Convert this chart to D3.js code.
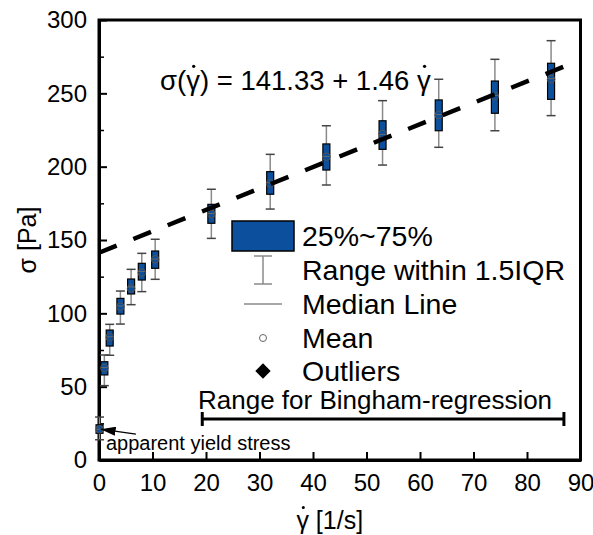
<!DOCTYPE html>
<html>
<head>
<meta charset="utf-8">
<script src="https://cdn.jsdelivr.net/npm/d3@7"></script>
<style>
  html, body { margin: 0; padding: 0; background: #fff; }
  svg text { font-family: "Liberation Sans", Arial, sans-serif; fill: #000; }
</style>
</head>
<body>
<svg id="chart" width="593" height="535"></svg>
<script>
// Shear rate steps [1/s] and the stress distribution measured at each step [Pa]
const shearRate   = [0.1, 1, 2, 4, 6, 8, 10.5, 21, 32, 42.5, 53, 63.5, 74, 84.5];
const whiskerHigh = [29.3, 71.6, 92.5, 115.2, 130.0, 140.9, 150.5, 184.6, 208.4, 227.9, 245.0, 259.6, 273.2, 285.9];
const q3          = [24.0, 67.0, 88.6, 110.2, 123.4, 134.1, 142.5, 174.3, 196.6, 215.5, 231.3, 245.5, 258.4, 270.5];
const median      = [21.0, 63.0, 84.0, 105.0, 118.0, 128.5, 137.0, 168.0, 189.0, 207.0, 222.0, 235.5, 248.5, 260.0];
const mean        = [20.9, 62.7, 83.7, 104.5, 117.0, 127.7, 136.8, 167.7, 188.6, 206.8, 222.3, 235.2, 248.2, 259.6];
const q1          = [18.2, 58.0, 77.7, 99.5, 113.2, 122.7, 130.7, 161.4, 181.2, 197.7, 211.8, 224.5, 236.4, 245.9];
const whiskerLow  = [13.8, 50.7, 71.4, 92.7, 105.9, 114.8, 123.2, 151.1, 171.1, 187.5, 201.1, 213.2, 224.5, 234.8];

// Bingham fit: sigma = tau0 + eta * gammaDot
const binghamIntercept = 141.33;
const binghamSlope = 1.46;
const fitRange = [0, 87];

// Shear-rate span used for the regression
const regressionRange = [19.3, 86.9];

// Axis ticks
const xTicks = [0, 10, 20, 30, 40, 50, 60, 70, 80, 90];
const yTicks = [0, 50, 100, 150, 200, 250, 300];
const yMinorTicks = [25, 75, 125, 175, 225, 275];

// Yield stress annotation (arrow tail/head and label anchor in data units)
const yieldArrowTail = [6.9, 17.6];
const yieldArrowHead = [0.3, 21.0];
const yieldLabelAt = [1.3, 6.8];

const legendItems = ["25%~75%", "Range within 1.5IQR", "Median Line", "Mean", "Outliers"];

const BLUE = "#0c4f9c";
const FONT = 24;
const NBSP = "\u00A0";

const svg = d3.select("#chart");
const x = d3.scaleLinear().domain([0, 90]).range([99, 580.5]);
const y = d3.scaleLinear().domain([0, 300]).range([460, 20]);

// Plot frame
svg.append("rect")
  .attr("x", x(0)).attr("y", y(300))
  .attr("width", x(90) - x(0)).attr("height", y(0) - y(300))
  .attr("fill", "none").attr("stroke", "#000").attr("stroke-width", 3);

// Axes with inward ticks
const xAxis = d3.axisBottom(x).tickValues(xTicks).tickSizeInner(-8).tickSizeOuter(0).tickPadding(14);
const gx = svg.append("g").attr("transform", `translate(0,${y(0)})`).call(xAxis);
gx.select(".domain").attr("stroke-width", 3);
gx.selectAll(".tick line").attr("stroke-width", 2);
gx.selectAll(".tick text").attr("font-size", FONT).attr("font-family", "Liberation Sans, Arial, sans-serif");

const yAxis = d3.axisLeft(y).tickValues(yTicks).tickSizeInner(-8).tickSizeOuter(0).tickPadding(12);
const gy = svg.append("g").attr("transform", `translate(${x(0)},0)`).call(yAxis);
gy.select(".domain").attr("stroke-width", 3);
gy.selectAll(".tick line").attr("stroke-width", 2);
gy.selectAll(".tick text").attr("font-size", FONT).attr("font-family", "Liberation Sans, Arial, sans-serif");

const gyMinor = svg.append("g").attr("transform", `translate(${x(0)},0)`)
  .call(d3.axisLeft(y).tickValues(yMinorTicks).tickSizeInner(-5).tickSizeOuter(0).tickFormat(""));
gyMinor.select(".domain").remove();
gyMinor.selectAll(".tick line").attr("stroke-width", 1.5);

// Text with dotted gamma pieces laid out left to right
function richText(parent, x0, baseline, parts, size, anchor) {
  const g = parent.append("g");
  let cx = 0;
  parts.forEach(p => {
    const t = g.append("text").attr("x", cx).attr("y", 0).attr("font-size", size).text(p.t);
    const w = t.node().getComputedTextLength();
    if (p.dot) {
      g.append("circle").attr("cx", cx + w * 0.55).attr("cy", -size * 0.86)
        .attr("r", Math.max(1.2, size * 0.06)).attr("fill", "#000");
    }
    cx += w;
  });
  const shift = anchor === "middle" ? -cx / 2 : 0;
  g.attr("transform", `translate(${x0 + shift},${baseline})`);
  return g;
}

// Axis titles
richText(svg, (x(0) + x(90)) / 2 - 10, 529, [{t: "γ", dot: true}, {t: NBSP + "[1/s]"}], 25, "middle");
svg.append("text")
  .attr("transform", `translate(36,${(y(0) + y(300)) / 2}) rotate(-90)`)
  .attr("text-anchor", "middle").attr("font-size", 25).text("σ [Pa]");

// Box plots
const data = shearRate.map((s, i) => ({
  s, hi: whiskerHigh[i], q3: q3[i], med: median[i], mean: mean[i], q1: q1[i], lo: whiskerLow[i]
}));
const boxW = 7, capW = 9;
const boxes = svg.append("g");
const bg = boxes.selectAll("g").data(data).join("g");
bg.append("line")
  .attr("x1", d => x(d.s)).attr("x2", d => x(d.s))
  .attr("y1", d => y(d.hi)).attr("y2", d => y(d.lo))
  .attr("stroke", "#8a8a8a").attr("stroke-width", 1.5);
bg.append("line")
  .attr("x1", d => x(d.s) - capW / 2).attr("x2", d => x(d.s) + capW / 2)
  .attr("y1", d => y(d.hi)).attr("y2", d => y(d.hi))
  .attr("stroke", "#444").attr("stroke-width", 1.5);
bg.append("line")
  .attr("x1", d => x(d.s) - capW / 2).attr("x2", d => x(d.s) + capW / 2)
  .attr("y1", d => y(d.lo)).attr("y2", d => y(d.lo))
  .attr("stroke", "#444").attr("stroke-width", 1.5);
bg.append("rect")
  .attr("x", d => x(d.s) - boxW / 2).attr("width", boxW)
  .attr("y", d => y(d.q3)).attr("height", d => y(d.q1) - y(d.q3))
  .attr("fill", BLUE).attr("stroke", "#000").attr("stroke-width", 1.2);
bg.append("line")
  .attr("x1", d => x(d.s) - boxW / 2).attr("x2", d => x(d.s) + boxW / 2)
  .attr("y1", d => y(d.med)).attr("y2", d => y(d.med))
  .attr("stroke", "#6a6a6a").attr("stroke-width", 1);
bg.append("circle")
  .attr("cx", d => x(d.s)).attr("cy", d => y(d.mean)).attr("r", 3.8)
  .attr("fill", "none").attr("stroke", "#555").attr("stroke-width", 1);

// Bingham regression line
const fitLine = d3.line().x(d => x(d)).y(d => y(binghamIntercept + binghamSlope * d));
svg.append("path")
  .attr("d", fitLine(fitRange))
  .attr("fill", "none").attr("stroke", "#000").attr("stroke-width", 4.5)
  .attr("stroke-dasharray", "19 18");

// Fit equation
richText(svg, 160, 90, [
  {t: "σ("}, {t: "γ", dot: true},
  {t: ")" + NBSP + "=" + NBSP + binghamIntercept.toFixed(2) + NBSP + "+" + NBSP + binghamSlope.toFixed(2) + NBSP},
  {t: "γ", dot: true}
], 27.5, "start");

// Legend
const lg = svg.append("g");
const lx = 263, ltx = 302, rowY = [236, 270, 304, 338, 371];
lg.append("rect").attr("x", 232).attr("y", rowY[0] - 15).attr("width", 62).attr("height", 30)
  .attr("fill", BLUE).attr("stroke", "#000").attr("stroke-width", 1.5);
lg.append("line").attr("x1", lx).attr("x2", lx).attr("y1", rowY[1] - 14).attr("y2", rowY[1] + 14)
  .attr("stroke", "#8a8a8a").attr("stroke-width", 1.5);
[rowY[1] - 14, rowY[1] + 14].forEach(yy => lg.append("line")
  .attr("x1", lx - 9).attr("x2", lx + 9).attr("y1", yy).attr("y2", yy)
  .attr("stroke", "#8a8a8a").attr("stroke-width", 1.5));
lg.append("line").attr("x1", 244).attr("x2", 282).attr("y1", rowY[2]).attr("y2", rowY[2])
  .attr("stroke", "#8a8a8a").attr("stroke-width", 1.5);
lg.append("circle").attr("cx", lx).attr("cy", rowY[3]).attr("r", 3.5)
  .attr("fill", "#fff").attr("stroke", "#666").attr("stroke-width", 1);
lg.append("path").attr("d", d3.symbol(d3.symbolDiamond2, 150)())
  .attr("transform", `translate(${lx},${rowY[4]})`).attr("fill", "#000");
legendItems.forEach((t, i) => lg.append("text")
  .attr("x", ltx).attr("y", rowY[i] + 10).attr("font-size", 28.5).text(t));

// Regression range bracket
const by = 419;
svg.append("text").attr("x", 198).attr("y", 409).attr("font-size", 26).text("Range for Bingham-regression");
svg.append("line").attr("x1", x(regressionRange[0])).attr("x2", x(regressionRange[1]))
  .attr("y1", by).attr("y2", by).attr("stroke", "#000").attr("stroke-width", 3);
regressionRange.forEach(v => svg.append("line")
  .attr("x1", x(v)).attr("x2", x(v)).attr("y1", by - 7).attr("y2", by + 7)
  .attr("stroke", "#000").attr("stroke-width", 3));

// Yield stress annotation
svg.append("defs").append("marker")
  .attr("id", "arrowHead").attr("viewBox", "0 0 15 9").attr("refX", 15).attr("refY", 4.5)
  .attr("markerWidth", 15).attr("markerHeight", 9).attr("markerUnits", "userSpaceOnUse")
  .attr("orient", "auto")
  .append("path").attr("d", "M0,0 L15,4.5 L0,9 Z").attr("fill", "#000");
svg.append("line")
  .attr("x1", x(yieldArrowTail[0])).attr("y1", y(yieldArrowTail[1]))
  .attr("x2", x(yieldArrowHead[0])).attr("y2", y(yieldArrowHead[1]))
  .attr("stroke", "#000").attr("stroke-width", 1.2).attr("marker-end", "url(#arrowHead)");
svg.append("text").attr("x", x(yieldLabelAt[0])).attr("y", y(yieldLabelAt[1]))
  .attr("font-size", 20).text("apparent yield stress");
</script>
</body>
</html>
